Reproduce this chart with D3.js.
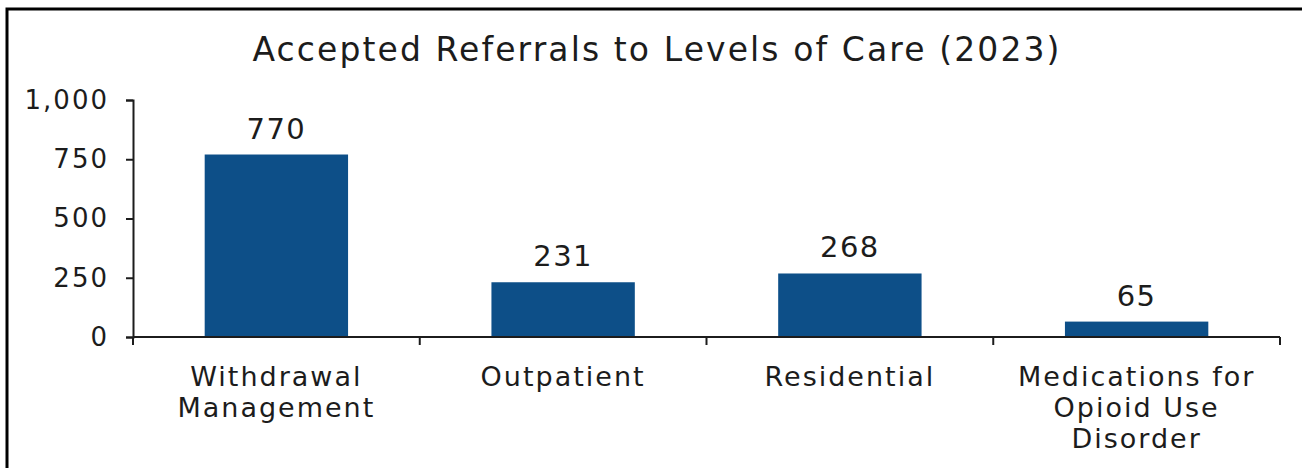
<!DOCTYPE html>
<html><head><meta charset="utf-8">
<script src="https://cdn.jsdelivr.net/npm/d3@7"></script>
<style>
body{margin:0;background:#fff;}
svg{display:block;}
text{font-family:"DejaVu Sans",sans-serif;fill:#1c1c1c;}
</style></head>
<body><svg id="c" width="1302" height="468"></svg>
<script>
const categories = [["Withdrawal","Management"],["Outpatient"],["Residential"],["Medications for","Opioid Use","Disorder"]];
const values = [770, 231, 268, 65];
const yTicks = [0, 250, 500, 750, 1000];
const title = "Accepted Referrals to Levels of Care (2023)";

const svg = d3.select("#c");
// frame
svg.append("path").attr("d","M7,468 V9 H1302").attr("fill","none").attr("stroke","#000").attr("stroke-width",3);

const m = {l:133, r:1280, t:100, b:337};
const x = d3.scaleBand().domain(d3.range(values.length)).range([m.l, m.r]).paddingInner(0.5).paddingOuter(0.25);
const y = d3.scaleLinear().domain([0,1000]).range([m.b, m.t]);

svg.append("text").attr("x",657).attr("y",61).attr("text-anchor","middle")
  .style("font-size","33px").style("letter-spacing","2.1px").text(title);

// y axis
const ya = svg.append("g").attr("transform",`translate(${m.l},0)`)
  .call(d3.axisLeft(y).tickValues(yTicks).tickFormat(d3.format(",")).tickSizeOuter(0).tickSize(7));
ya.selectAll("path,line").attr("stroke","#1c1c1c").attr("stroke-width",2);
ya.selectAll("text").style("font-size","26px").style("letter-spacing","2px").attr("x",-24).attr("fill","#1c1c1c");

// bars
svg.selectAll("rect.bar").data(values).join("rect").attr("class","bar")
  .attr("x",(d,i)=>x(i)).attr("width",x.bandwidth())
  .attr("y",d=>y(d)).attr("height",d=>y(0)-y(d)).attr("fill","#0d4f88");

svg.selectAll("text.val").data(values).join("text").attr("class","val")
  .attr("x",(d,i)=>x(i)+x.bandwidth()/2).attr("y",d=>y(d)-16)
  .attr("text-anchor","middle").style("font-size","29px").style("letter-spacing","1.5px").text(d=>d);

// x axis with boundary ticks
const xb = svg.append("g");
xb.append("line").attr("x1",m.l).attr("x2",m.r).attr("y1",m.b).attr("y2",m.b).attr("stroke","#1c1c1c").attr("stroke-width",2);
const step = x.step();
const bounds = d3.range(values.length+1).map(i=>m.l + i*step);
xb.selectAll("line.t").data(bounds).join("line").attr("class","t")
  .attr("x1",d=>d).attr("x2",d=>d).attr("y1",m.b).attr("y2",m.b+8).attr("stroke","#1c1c1c").attr("stroke-width",2);

const cl = svg.selectAll("text.cat").data(categories).join("text").attr("class","cat")
  .attr("text-anchor","middle").style("font-size","27px").style("letter-spacing","2px");
cl.each(function(lines,i){
  d3.select(this).selectAll("tspan").data(lines).join("tspan")
    .attr("x",x(i)+x.bandwidth()/2).attr("y",(d,j)=>386+j*31).text(d=>d);
});
</script></body></html>
